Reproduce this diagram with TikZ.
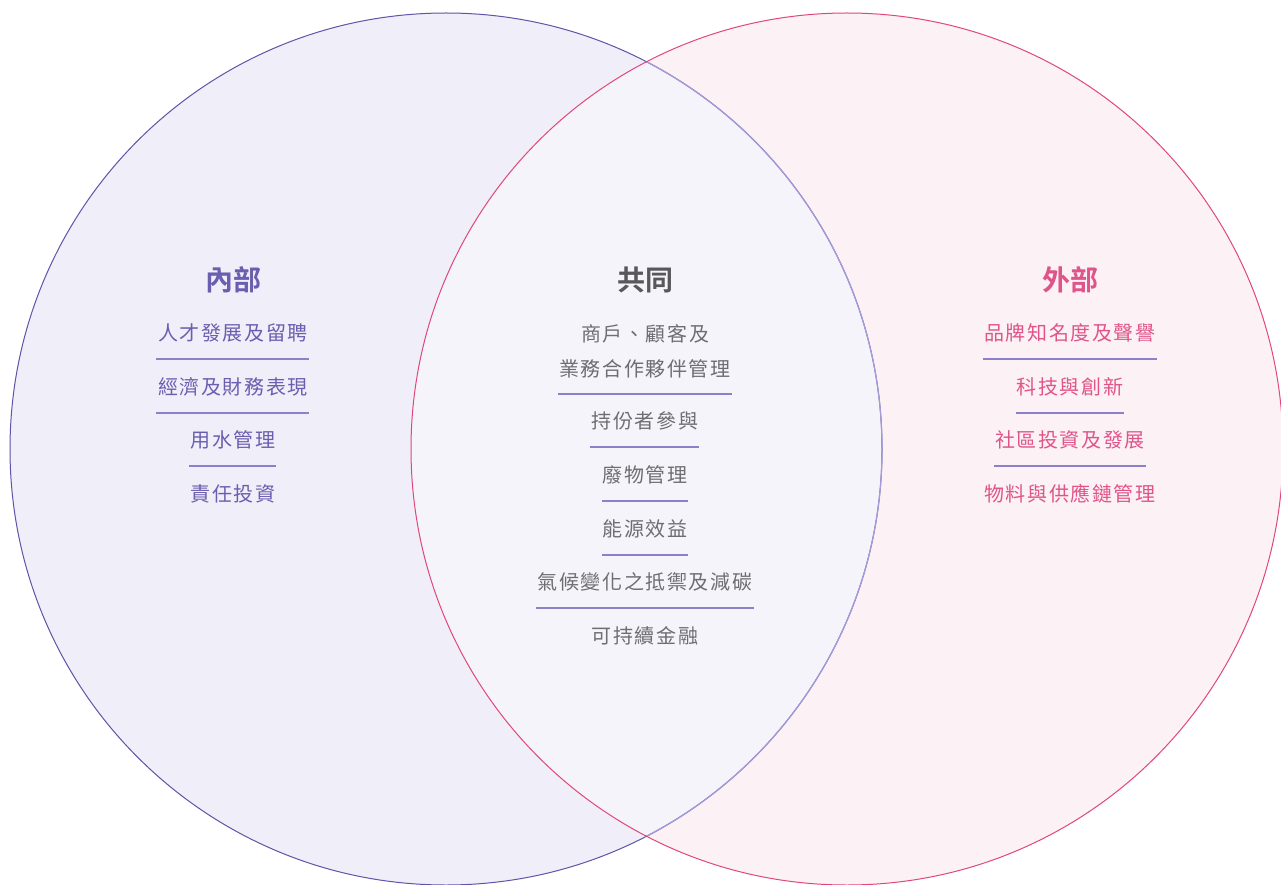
\documentclass[tikz,border=0pt]{standalone}
\usepackage{fontspec}
\newfontfamily\cjk[LetterSpace=8]{Noto Sans CJK TC}
\newfontfamily\cjkb{Noto Sans CJK TC Bold}
\definecolor{lfill}{HTML}{F0EEF8}
\definecolor{rfill}{HTML}{FCF1F4}
\definecolor{mfill}{HTML}{F5F4FA}
\definecolor{lline}{HTML}{5E54A8}
\definecolor{lline2}{HTML}{A59BD8}
\definecolor{rline}{HTML}{E0487A}
\definecolor{ltext}{HTML}{6A5EB0}
\definecolor{mtext}{HTML}{6E6E72}
\definecolor{mtitle}{HTML}{58585C}
\definecolor{rtext}{HTML}{E05589}
\definecolor{sep}{HTML}{8C80C8}
\tikzset{
  item/.style={font=\cjk\fontsize{20}{35}\selectfont, inner sep=0pt, align=center},
  ttl/.style={font=\cjkb\fontsize{28}{32}\selectfont, inner sep=0pt},
  sepline/.style={draw=sep, line width=1.2pt},
}
\begin{document}
\begin{tikzpicture}[x=1pt,y=-1pt]
\useasboundingbox (0,0) rectangle (1281,885);
\fill[white] (0,0) rectangle (1281,885);
% fills
\fill[lfill] (446,449) circle (436);
\fill[rfill] (847,449) circle (436);
\begin{scope}
  \clip (446,449) circle (436);
  \fill[mfill] (847,449) circle (436);
\end{scope}
% outlines
\draw[lline, line width=1pt] (446,449) circle (436);
\begin{scope}
  \clip (847,449) circle (436);
  \draw[lline2, line width=1.2pt] (446,449) circle (436);
\end{scope}
\draw[rline, line width=1pt] (847,449) circle (436);

% left column
\node[ttl, text=ltext] (lt) at (233,280) {內部};
\node[item, text=ltext] (l1) at (233,333) {人才發展及留聘};
\node[item, text=ltext] (l2) at (233,387) {經濟及財務表現};
\node[item, text=ltext] (l3) at (233,440) {用水管理};
\node[item, text=ltext] (l4) at (233,494) {責任投資};
\draw[sepline] (156,359) -- (309,359);
\draw[sepline] (156,413) -- (309,413);
\draw[sepline] (189,466) -- (276,466);

% middle column
\node[ttl, text=mtitle] (mt) at (645,280) {共同};
\node[item, text=mtext] (m1) at (645,351) {商戶、顧客及\\業務合作夥伴管理};
\node[item, text=mtext] (m2) at (645,421) {持份者參與};
\node[item, text=mtext] (m3) at (645,475) {廢物管理};
\node[item, text=mtext] (m4) at (645,529) {能源效益};
\node[item, text=mtext] (m5) at (645,582) {氣候變化之抵禦及減碳};
\node[item, text=mtext] (m6) at (645,636) {可持續金融};
\draw[sepline] (558,394) -- (732,394);
\draw[sepline] (590,447) -- (699,447);
\draw[sepline] (602,501) -- (688,501);
\draw[sepline] (602,555) -- (688,555);
\draw[sepline] (536,608) -- (754,608);

% right column
\node[ttl, text=rtext] (rt) at (1070,280) {外部};
\node[item, text=rtext] (r1) at (1070,333) {品牌知名度及聲譽};
\node[item, text=rtext] (r2) at (1070,387) {科技與創新};
\node[item, text=rtext] (r3) at (1070,440) {社區投資及發展};
\node[item, text=rtext] (r4) at (1070,494) {物料與供應鏈管理};
\draw[sepline] (983,359) -- (1157,359);
\draw[sepline] (1016,413) -- (1124,413);
\draw[sepline] (994,466) -- (1146,466);
\end{tikzpicture}
\end{document}
